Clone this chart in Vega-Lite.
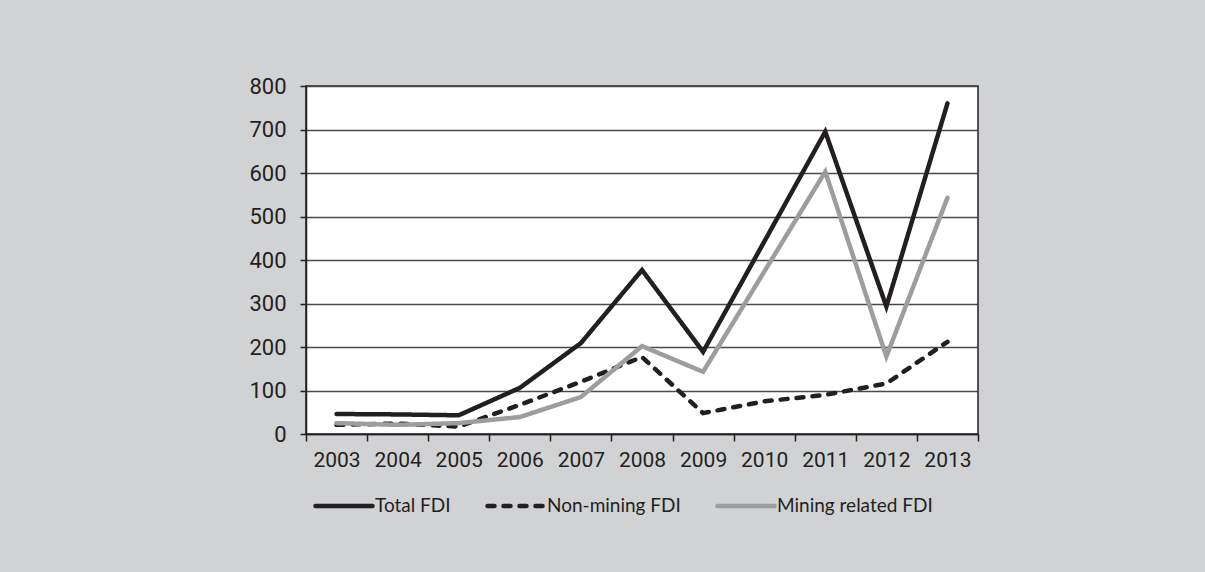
{
  "$schema": "https://vega.github.io/schema/vega-lite/v6.json",
  "width": 672,
  "height": 348,
  "autosize": {"type": "none"},
  "padding": {"left": 306, "top": 86, "right": 227, "bottom": 138},
  "background": "#d1d2d4",
  "data": {
    "values": [
      {"year": "2003", "series": "Total FDI", "value": 46},
      {"year": "2004", "series": "Total FDI", "value": 45},
      {"year": "2005", "series": "Total FDI", "value": 43},
      {"year": "2006", "series": "Total FDI", "value": 106},
      {"year": "2007", "series": "Total FDI", "value": 209},
      {"year": "2008", "series": "Total FDI", "value": 377},
      {"year": "2009", "series": "Total FDI", "value": 189},
      {"year": "2010", "series": "Total FDI", "value": 442},
      {"year": "2011", "series": "Total FDI", "value": 695},
      {"year": "2012", "series": "Total FDI", "value": 293},
      {"year": "2013", "series": "Total FDI", "value": 760},
      {"year": "2003", "series": "Non-mining FDI", "value": 21},
      {"year": "2004", "series": "Non-mining FDI", "value": 24},
      {"year": "2005", "series": "Non-mining FDI", "value": 17},
      {"year": "2006", "series": "Non-mining FDI", "value": 67},
      {"year": "2007", "series": "Non-mining FDI", "value": 120},
      {"year": "2008", "series": "Non-mining FDI", "value": 177},
      {"year": "2009", "series": "Non-mining FDI", "value": 48},
      {"year": "2010", "series": "Non-mining FDI", "value": 75},
      {"year": "2011", "series": "Non-mining FDI", "value": 90},
      {"year": "2012", "series": "Non-mining FDI", "value": 116},
      {"year": "2013", "series": "Non-mining FDI", "value": 212},
      {"year": "2003", "series": "Mining related FDI", "value": 25},
      {"year": "2004", "series": "Mining related FDI", "value": 21},
      {"year": "2005", "series": "Mining related FDI", "value": 25},
      {"year": "2006", "series": "Mining related FDI", "value": 39},
      {"year": "2007", "series": "Mining related FDI", "value": 85},
      {"year": "2008", "series": "Mining related FDI", "value": 202},
      {"year": "2009", "series": "Mining related FDI", "value": 143},
      {"year": "2010", "series": "Mining related FDI", "value": 373},
      {"year": "2011", "series": "Mining related FDI", "value": 603},
      {"year": "2012", "series": "Mining related FDI", "value": 178},
      {"year": "2013", "series": "Mining related FDI", "value": 543}
    ]
  },
  "mark": {"type": "line", "strokeWidth": 4.5, "strokeCap": "round", "strokeJoin": "miter"},
  "encoding": {
    "x": {
      "field": "year",
      "type": "ordinal",
      "scale": {"type": "band", "paddingInner": 0, "paddingOuter": 0},
      "axis": {
        "title": null,
        "labelAngle": 0,
        "tickBand": "extent",
        "tickSize": 7,
        "tickColor": "#231f20",
        "tickWidth": 1.5,
        "domain": true,
        "domainColor": "#231f20",
        "domainWidth": 1.5,
        "labelPadding": 8,
        "grid": false
      }
    },
    "y": {
      "field": "value",
      "type": "quantitative",
      "scale": {"domain": [0, 800], "nice": false},
      "axis": {
        "title": null,
        "values": [0, 100, 200, 300, 400, 500, 600, 700, 800],
        "tickSize": 6,
        "tickColor": "#231f20",
        "tickWidth": 1.5,
        "domainColor": "#231f20",
        "domainWidth": 1.5,
        "labelPadding": 14,
        "labelFontSize": 22,
        "grid": true,
        "gridColor": "#4a4a4a",
        "gridWidth": 1.5
      }
    },
    "color": {
      "field": "series",
      "type": "nominal",
      "scale": {
        "domain": ["Total FDI", "Non-mining FDI", "Mining related FDI"],
        "range": ["#231f20", "#231f20", "#9c9d9f"]
      },
      "legend": {
        "title": null,
        "orient": "none",
        "legendX": 7,
        "legendY": 389,
        "direction": "horizontal",
        "symbolType": "stroke",
        "symbolSize": 3249,
        "symbolStrokeWidth": 4.5,
        "labelOffset": 0,
        "columnPadding": 27,
        "labelFont": "Lato",
        "labelFontSize": 19,
        "labelColor": "#231f20",
        "encode": {"symbols": {"update": {"strokeCap": {"value": "round"}}}}
      }
    },
    "strokeDash": {
      "field": "series",
      "type": "nominal",
      "scale": {
        "domain": ["Total FDI", "Non-mining FDI", "Mining related FDI"],
        "range": [[1, 0], [7, 9], [1, 0]]
      },
      "legend": {
        "title": null,
        "orient": "none",
        "legendX": 7,
        "legendY": 389,
        "direction": "horizontal",
        "symbolType": "stroke",
        "symbolSize": 3249,
        "symbolStrokeWidth": 4.5,
        "labelOffset": 0,
        "columnPadding": 27,
        "labelFont": "Lato",
        "labelFontSize": 19,
        "labelColor": "#231f20",
        "encode": {"symbols": {"update": {"strokeCap": {"value": "round"}}}}
      }
    }
  },
  "config": {
    "view": {"fill": "white", "stroke": "#231f20", "strokeWidth": 1.5},
    "axis": {
      "labelFont": "Roboto",
      "labelFontSize": 21,
      "labelColor": "#231f20"
    }
  }
}
